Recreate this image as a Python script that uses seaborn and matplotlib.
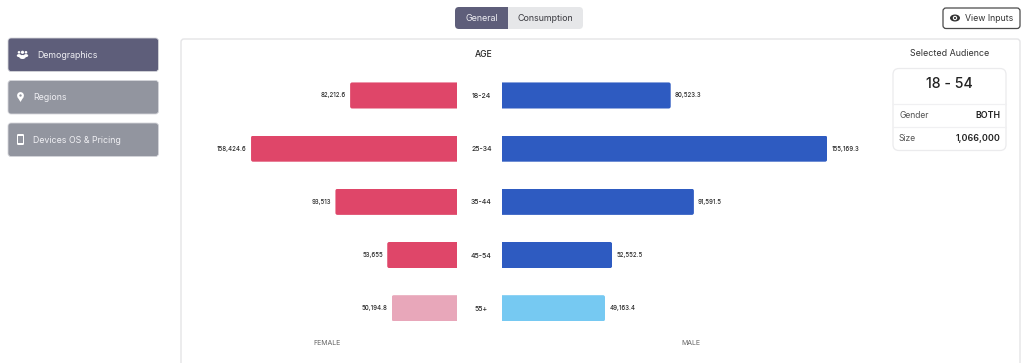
import pandas as pd
import seaborn as sns
import matplotlib.pyplot as plt
from matplotlib.patches import FancyBboxPatch, Rectangle, Circle, Ellipse, Polygon
from matplotlib.transforms import IdentityTransform

ages = ['18-24', '25-34', '35-44', '45-54', '55+']
female = [82212.6, 158424.6, 93513, 53655, 50194.8]
male = [80523.3, 155169.3, 91591.5, 52552.5, 49163.4]
female_colors = ['#DF4669', '#DF4669', '#DF4669', '#DF4669', '#E8A7BA']
male_colors = ['#2E5BC1', '#2E5BC1', '#2E5BC1', '#2E5BC1', '#76C9F2']
menu_items = ['Demographics', 'Regions', 'Devices OS & Pricing']

sns.set_theme(style='white')
plt.rcParams['font.family'] = ['Inter', 'DejaVu Sans']
plt.rcParams['patch.force_edgecolor'] = False

df = pd.DataFrame({'age': ages, 'female': female, 'male': male})

W, H = 1024, 363
fig = plt.figure(figsize=(W / 100, H / 100), dpi=100, facecolor='white')

# page furniture is drawn in pixel coordinates on a full size axes
ui = fig.add_axes([0, 0, 1, 1], zorder=0)
ui.set_xlim(0, W)
ui.set_ylim(H, 0)
ui.axis('off')


def box(x0, y0, x1, y1, r=3, fc='white', ec='none', lw=1.0, z=1):
    p = FancyBboxPatch((x0 + r, y0 + r), x1 - x0 - 2 * r, y1 - y0 - 2 * r,
                       boxstyle=f'round,pad={r},rounding_size={r}',
                       fc=fc, ec=ec, lw=lw, zorder=z)
    ui.add_patch(p)
    return p


def label(x, y, s, size=6.8, color='#333333', ha='left', weight='normal'):
    ui.text(x, y, s, fontsize=size, color=color, ha=ha, va='center', weight=weight, zorder=5)


# tabs
tabs = box(455, 7, 583, 29, r=4, fc='#E6E7E9')
dark = Rectangle((455, 7), 53, 22, fc='#5E5E7A', ec='none', zorder=2)
ui.add_patch(dark)
dark.set_clip_path(tabs)
label(481.5, 18.5, 'General', 6.4, '#EDEDF2', 'center')
label(545.5, 18.5, 'Consumption', 6.4, '#3A3A40', 'center')

# view inputs button
box(943, 8, 1020, 28.5, r=3, fc='white', ec='#4A4A4A', lw=0.9)
ui.add_patch(Ellipse((955, 18), 10, 7, fc='#333333', ec='none', zorder=3))
ui.add_patch(Circle((955, 18), 2.2, fc='white', ec='none', zorder=4))
ui.add_patch(Circle((955, 18), 1.1, fc='#333333', ec='none', zorder=5))
label(965, 18.5, 'View Inputs', 6.3, '#333333')

# side menu
menu_y = [(38, 71.5), (80.5, 114), (123, 156.5)]
menu_fc = ['#5E5E7A', '#92959F', '#92959F']
menu_x = [37.5, 33, 33]
for name, (y0, y1), fc, tx in zip(menu_items, menu_y, menu_fc, menu_x):
    box(8, y0, 158.5, y1, r=3, fc=fc, ec='#D5D6DB', lw=0.6)
    label(tx, (y0 + y1) / 2 + 0.5, name, 6.35, '#F0F0F4')
# people icon
for cx, r in ((19, 1.3), (22.5, 1.6), (26, 1.3)):
    ui.add_patch(Circle((cx, 52.3), r, fc='white', ec='none', zorder=3))
for cx in (19, 26):
    ui.add_patch(Ellipse((cx, 55.6), 4.4, 3, fc='white', ec='none', zorder=3))
ui.add_patch(Ellipse((22.5, 57), 6.5, 4, fc='white', ec='none', zorder=3))
# pin icon
ui.add_patch(Circle((20.5, 95.5), 3.4, fc='white', ec='none', zorder=3))
ui.add_patch(Polygon([(17.5, 97), (23.5, 97), (20.5, 102)], fc='white', ec='none', zorder=3))
ui.add_patch(Circle((20.5, 95.5), 1.2, fc='#92959F', ec='none', zorder=4))
# phone icon
box(17, 134, 24, 145, r=1.2, fc='white', z=3)
ui.add_patch(Rectangle((18.2, 136), 4.6, 6.8, fc='#92959F', ec='none', zorder=4))

# main card
box(181, 39, 1020, 380, r=3, fc='white', ec='#E4E4E6', lw=1.0, z=0.5)
label(483.5, 54.5, 'AGE', 6.2, '#222222', 'center', 'medium')
label(327, 343, 'FEMALE', 5.0, '#666666', 'center')
label(691, 343, 'MALE', 5.0, '#666666', 'center')

# selected audience card
label(950, 53, 'Selected Audience', 6.4, '#333333', 'center')
box(893, 68.5, 1006, 150.5, r=6, fc='white', ec='#EBEBED', lw=0.9)
ui.plot([893, 1006], [103.5, 103.5], color='#F0F0F2', lw=0.9, zorder=3)
ui.plot([893, 1006], [127, 127], color='#F0F0F2', lw=0.9, zorder=3)
label(949.5, 84.5, '18 - 54', 10.2, '#222222', 'center', 'medium')
label(899, 115.5, 'Gender', 6.2, '#555555')
label(1000.5, 115.5, 'BOTH', 6.4, '#222222', 'right', 'semibold')
label(899, 138.5, 'Size', 6.2, '#555555')
label(1000.5, 138.5, '1,066,000', 6.4, '#222222', 'right', 'semibold')

# the two sides have their own scales: px per unit
left_px, split_l, split_r, right_px = 182, 457, 502, 890
ax_f = fig.add_axes([left_px / W, 0, (split_l - left_px) / W, 1], zorder=2)
ax_m = fig.add_axes([split_r / W, 0, (right_px - split_r) / W, 1], zorder=2)

sns.barplot(data=df, y='age', x='female', hue='age', palette=female_colors, dodge=False,
            width=0.49, saturation=1, legend=False, ax=ax_f, order=ages, hue_order=ages)
sns.barplot(data=df, y='age', x='male', hue='age', palette=male_colors, dodge=False,
            width=0.49, saturation=1, legend=False, ax=ax_m, order=ages, hue_order=ages)

ax_f.set_xlim((split_l - left_px) / 0.0013, 0)
ax_m.set_xlim(0, (right_px - split_r) / 0.002095)

for ax in (ax_f, ax_m):
    ax.set_ylim(5.03, -1.795)
    ax.patch.set_alpha(0)
    ax.set_xlabel('')
    ax.set_ylabel('')
    ax.set_xticks([])
    sns.despine(ax=ax, left=True, bottom=True)
    for c in ax.containers:
        ax.bar_label(c, fmt=lambda v: f'{v:,.1f}'.removesuffix('.0'), padding=3,
                     fontsize=4.4, color='#2A2A2A', weight='medium')

ax_f.set_yticks([])
ax_m.set_yticks(range(len(ages)), ages)
ax_m.tick_params(axis='y', length=0, pad=14.8, labelsize=5.0, labelcolor='#2A2A2A')
for t in ax_m.get_yticklabels():
    t.set_ha('center')
    t.set_weight('medium')

# rounded outer corners on the bars
fig.canvas.draw()
for ax, side in ((ax_f, -1), (ax_m, 1)):
    for bar in ax.patches:
        bb = bar.get_window_extent()
        if bb.width < 1:
            continue
        x0 = bb.x0 - (6 if side == 1 else 0)
        x1 = bb.x1 + (6 if side == -1 else 0)
        clip = FancyBboxPatch((x0 + 2, bb.y0 + 2), x1 - x0 - 4, bb.height - 4,
                              boxstyle='round,pad=2,rounding_size=2',
                              transform=IdentityTransform())
        bar.set_clip_path(clip)

fig.savefig('out.png', dpi=100, facecolor='white')
